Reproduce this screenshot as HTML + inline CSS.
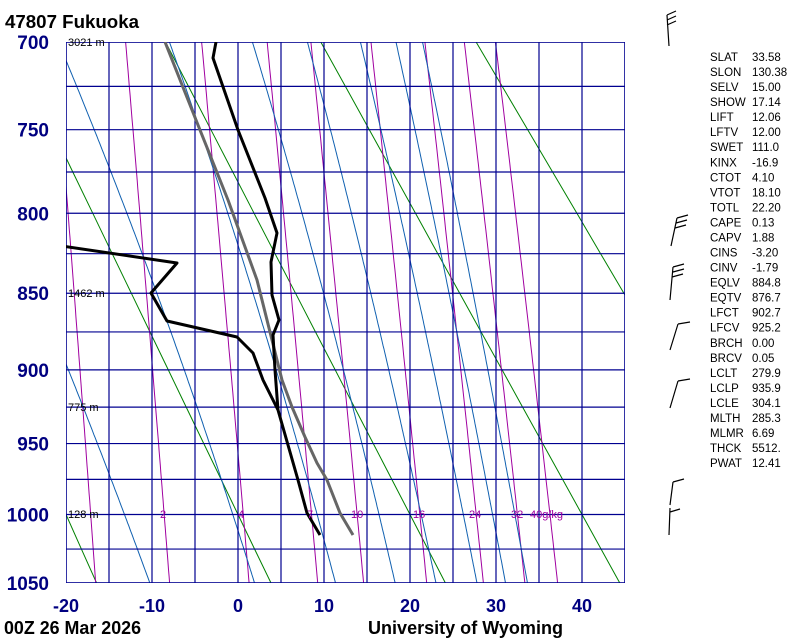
<!DOCTYPE html>
<html><head><meta charset="utf-8"><style>
html,body{margin:0;padding:0;background:#fff;}
svg{display:block;font-family:"Liberation Sans",sans-serif;}
</style></head><body>
<svg id="s" width="800" height="640" viewBox="0 0 800 640" xmlns="http://www.w3.org/2000/svg">
<defs><clipPath id="c"><rect x="66" y="42" width="559" height="541"/></clipPath></defs>
<g id="bg" clip-path="url(#c)"></g>
<g id="fg" clip-path="url(#c)"></g>
<g id="tx"></g>
<text x="5" y="28" font-size="18" font-weight="bold" textLength="134" lengthAdjust="spacingAndGlyphs">47807  Fukuoka</text>
<text x="4" y="634" font-size="18" font-weight="bold" textLength="137" lengthAdjust="spacingAndGlyphs">00Z 26 Mar 2026</text>
<text x="368" y="634" font-size="18" font-weight="bold" textLength="195" lengthAdjust="spacingAndGlyphs">University of Wyoming</text>
<g font-size="11" fill="#000">
<text x="68" y="46">3021 m</text>
<text x="68" y="297">1462 m</text>
<text x="68" y="411">775 m</text>
<text x="68" y="518">128 m</text>
</g>
<g font-size="11" fill="#a000a0">
<text x="160" y="518">2</text><text x="238" y="518">4</text><text x="307" y="518">7</text>
<text x="351" y="518">10</text><text x="413" y="518">16</text><text x="469" y="518">24</text>
<text x="511" y="518">32</text><text x="530" y="518">40g/kg</text>
</g>
<g stroke="#000" stroke-width="1.2" fill="none">
<path d="M667,15 L669,46 M667,15 L676,11 M667,20 L676,16 M667,25 L676,21"/>
<path d="M671,246 L677,218 M677,218 L688,215 M676,223 L687,220 M675,228 L686,225"/>
<path d="M670,300 L673,267 M673,267 L684,264 M673,272 L684,269 M672,277 L683,274"/>
<path d="M670,350 L678,324 M678,324 L690,322"/>
<path d="M670,408 L678,381 M678,381 L690,379"/>
<path d="M670,505 L673,482 M673,482 L684,479"/>
<path d="M669,535 L670,508 M670,512 L680,509"/>
</g>
</svg>
<script>
(function(){
var NS="http://www.w3.org/2000/svg";
var k=0.286,a=Math.pow(700,k),b=Math.pow(1050,k);
function yP(p){return 42+(Math.pow(p,k)-a)/(b-a)*541;}
function xT(T){return 66+(T+20)*(559/65);}
function add(g,tag,attrs,txt){var e=document.createElementNS(NS,tag);for(var n in attrs)e.setAttribute(n,attrs[n]);if(txt!=null)e.textContent=txt;document.getElementById(g).appendChild(e);return e;}
function poly(g,pts,col,w){var d="";pts.forEach(function(q,i){d+=(i?"L":"M")+q[0].toFixed(1)+","+q[1].toFixed(1);});add(g,"path",{d:d,stroke:col,"stroke-width":w,fill:"none","stroke-linejoin":"round"});}
[-20,0,20,40,60,80].forEach(function(t1){var th=t1+273.15,pts=[];for(var p=700;p<=1050;p+=25){pts.push([xT(th*Math.pow(p/1000,k)-273.15),yP(p)]);}poly("bg",pts,"#008000",1);});
function es(T){return 6.112*Math.exp(17.67*T/(T+243.5));}
[1,2,4,7,10,16,24,32,40].forEach(function(w){var pts=[];for(var p=700;p<=1050;p+=5){var e=w*p/(622+w);var l=Math.log(e/6.112);var T=243.5*l/(17.67-l);pts.push([xT(T),yP(p)]);}poly("bg",pts,"#a000a0",1);});
function dTdp(p,T){var TK=T+273.15,e=es(T),rs=0.622*e/(p-e),Lv=2.5e6,Rd=287,cp=1004;return (Rd*TK+Lv*rs)/(p*(cp+Lv*Lv*rs*0.622/(Rd*TK*TK)));}
[-13.2,-0.6,9.2,16.4,21.3,26.2,29.6,32.2].forEach(function(T0){var up=[],T=T0,p=1000;up.push([xT(T),yP(p)]);while(p>690){var h=-2;T+=dTdp(p,T)*h;p+=h;up.push([xT(T),yP(p)]);}
var dn=[];T=T0;p=1000;while(p<1055){var h=2;T+=dTdp(p,T)*h;p+=h;dn.push([xT(T),yP(p)]);}
poly("bg",up.reverse().concat(dn),"#1060b0",1);});
for(var i=0;i<=13;i++){var x=66+i*43;add("bg","line",{x1:x,y1:42,x2:x,y2:583,stroke:"#000090","stroke-width":1.2});}
for(var p=700;p<=1050;p+=25){var y=yP(p);add("bg","line",{x1:66,y1:y,x2:625,y2:y,stroke:"#000090","stroke-width":1.2});}
add("bg","rect",{x:66,y:42,width:559,height:541,fill:"none",stroke:"#000090","stroke-width":1.5});
[700,750,800,850,900,950,1000,1050].forEach(function(p){add("tx","text",{x:49,y:yP(p)+7,"font-size":19,"font-weight":"bold",fill:"#000080","text-anchor":"end"},p);});
[-20,-10,0,10,20,30,40].forEach(function(t){add("tx","text",{x:xT(t),y:612,"font-size":18,"font-weight":"bold",fill:"#000080","text-anchor":"middle"},t);});
poly("fg",[[165,42],[196,120],[228,200],[257,280],[282,380],[292,407],[305,437],[317,463],[327,480],[340,513],[353,535]],"#666",3);
poly("fg",[[216,42],[213,58],[238,130],[265,198],[277,233],[271,262],[272,295],[279,320],[273,335],[275,370],[278,410]],"#000",3);
poly("fg",[[62,246],[177,263],[151,293],[167,321],[237,337],[253,353],[263,380],[273,400],[278,410],[288,445],[298,480],[307,513],[320,535]],"#000",3);
var st=[["SLAT","33.58"],["SLON","130.38"],["SELV","15.00"],["SHOW","17.14"],["LIFT","12.06"],["LFTV","12.00"],["SWET","111.0"],["KINX","-16.9"],["CTOT","4.10"],["VTOT","18.10"],["TOTL","22.20"],["CAPE","0.13"],["CAPV","1.88"],["CINS","-3.20"],["CINV","-1.79"],["EQLV","884.8"],["EQTV","876.7"],["LFCT","902.7"],["LFCV","925.2"],["BRCH","0.00"],["BRCV","0.05"],["LCLT","279.9"],["LCLP","935.9"],["LCLE","304.1"],["MLTH","285.3"],["MLMR","6.69"],["THCK","5512."],["PWAT","12.41"]];
st.forEach(function(r,i){var y=61+i*15.04;add("tx","text",{x:710,y:y,"font-size":11.5},r[0]);add("tx","text",{x:752,y:y,"font-size":11.5},r[1]);});
})();
</script>
</body></html>
